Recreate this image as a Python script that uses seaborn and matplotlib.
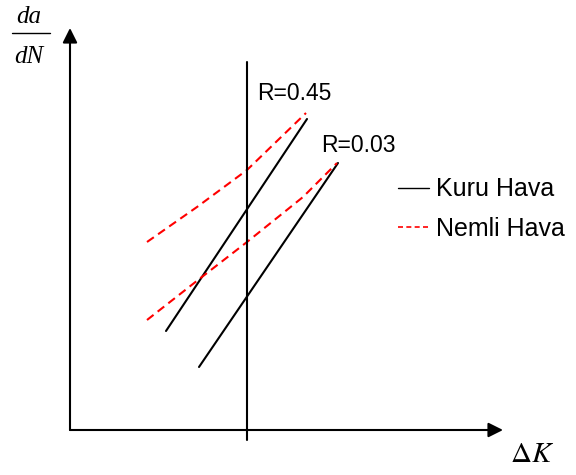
import pandas as pd
import matplotlib
matplotlib.use("Agg")
import matplotlib.pyplot as plt
from matplotlib.lines import Line2D
import seaborn as sns

# Schematic da/dN vs dK sketch, coordinates in picture units (y grows downward)
kuru_045_x = [166, 307]
kuru_045_y = [331, 119]
kuru_003_x = [199, 338]
kuru_003_y = [367, 163]
nemli_045_x = [147, 197, 247, 306]
nemli_045_y = [242, 207, 170, 113]
nemli_003_x = [147, 198, 247, 303, 337]
nemli_003_y = [320, 280, 242, 197, 163]

series_labels = ["Kuru Hava", "Nemli Hava"]
r_labels = ["R=0.45", "R=0.03"]

# axes of the sketch
origin = (70, 430)
y_axis_tip = (70, 28)
x_axis_tip = (503, 430)
ref_line_x = 247
ref_line_y = [62, 440]

rows = []
for air, r, xs, ys in [
    ("Kuru Hava", "R=0.45", kuru_045_x, kuru_045_y),
    ("Kuru Hava", "R=0.03", kuru_003_x, kuru_003_y),
    ("Nemli Hava", "R=0.45", nemli_045_x, nemli_045_y),
    ("Nemli Hava", "R=0.03", nemli_003_x, nemli_003_y),
]:
    for i, (x, y) in enumerate(zip(xs, ys)):
        rows.append({"air": air, "R": r, "order": i, "x": x, "y": y})
df = pd.DataFrame(rows)

sns.set_style("white")
plt.rcParams["font.family"] = ["Liberation Sans", "DejaVu Sans"]
plt.rcParams["mathtext.fontset"] = "stix"
plt.rcParams["text.color"] = "black"

fig = plt.figure(figsize=(5.76, 4.75), dpi=100)
ax = fig.add_axes([0, 0, 1, 1])
ax.set_xlim(0, 576)
ax.set_ylim(475, 0)
ax.axis("off")

palette = {"Kuru Hava": "black", "Nemli Hava": "red"}
dashes = {"Kuru Hava": "", "Nemli Hava": (4, 2.5)}
sns.lineplot(data=df, x="x", y="y", hue="air", style="air", units="R",
             estimator=None, sort=False, palette=palette, dashes=dashes,
             linewidth=1.5, legend=False, ax=ax)

# axes arrows
arrow = dict(arrowstyle="-|>", mutation_scale=22, lw=1.5, color="black",
             shrinkA=0, shrinkB=0)
ax.annotate("", xy=y_axis_tip, xytext=origin, arrowprops=arrow)
ax.annotate("", xy=x_axis_tip, xytext=origin, arrowprops=arrow)
ax.plot([ref_line_x, ref_line_x], ref_line_y, color="black", lw=1.5)

# labels
ax.text(257, 93, r_labels[0], fontsize=16.5, va="center", ha="left")
ax.text(321, 146, r_labels[1], fontsize=16.5, va="center", ha="left")

ax.text(29, 17, "da", fontsize=18, family="Liberation Serif", style="italic",
        ha="center", va="center")
ax.plot([12, 50], [33, 33], color="black", lw=1)
ax.text(29, 57, "dN", fontsize=18, family="Liberation Serif", style="italic",
        ha="center", va="center")
ax.text(532, 454, r"$\Delta K$", fontsize=21, ha="center", va="center")

handles = [Line2D([], [], color="black", lw=1),
           Line2D([], [], color="red", lw=1.2, dashes=(3, 2))]
ax.legend(handles, series_labels, frameon=False, loc="center left",
          bbox_to_anchor=(398, 209), bbox_transform=ax.transData,
          fontsize=18, handlelength=1.25, handletextpad=0.25,
          labelspacing=0.6, borderpad=0, borderaxespad=0)

fig.savefig("out.png", dpi=100)
